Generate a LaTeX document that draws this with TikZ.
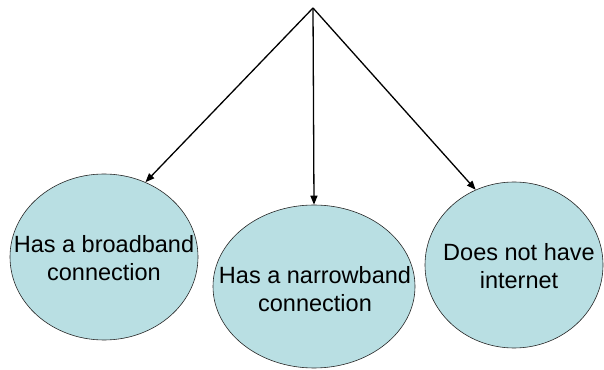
\documentclass[tikz,border=0pt]{standalone}
\usepackage{fontspec}
\setmainfont{Liberation Sans}
\usepackage{xcolor}
\usepackage{tikz}
\usetikzlibrary{shapes.geometric,arrows.meta}
\definecolor{BubbleBlue}{HTML}{B9DFE3}

\begin{document}
\begin{tikzpicture}[x=1pt, y=1pt, font=\fontsize{23.5}{28.5}\selectfont]
    \useasboundingbox (0,0) rectangle (604,369);
    \coordinate (top) at (313,361);
    \foreach \name/\x/\y/\w/\h in {broad/104/112/188/166, narrow/314/82.5/202/163, none/514/104/178/166} {
      \node[ellipse, draw=black!85, fill=BubbleBlue, line width=0.6pt,
        inner sep=0pt, minimum width=\w pt, minimum height=\h pt] (\name) at (\x,\y) {};
    }
    \node[align=center] (broadtxt) at (104,111) {Has a broadband\\connection};
    \node[align=center] (narrowtxt) at (315,80) {Has a narrowband\\connection};
    \node[align=center] (nonetxt) at (519,103) {Does not have\\internet};
    \draw[black, line width=1.3pt, -{Triangle[length=9pt,width=7pt]}] (top) -- (broad.61);
    \draw[black, line width=1.3pt, -{Triangle[length=9pt,width=7pt]}] (top) -- (narrow.north);
    \draw[black, line width=1.3pt, -{Triangle[length=9pt,width=7pt]}] (top) -- (none.117);
  \end{tikzpicture}
\end{document}
